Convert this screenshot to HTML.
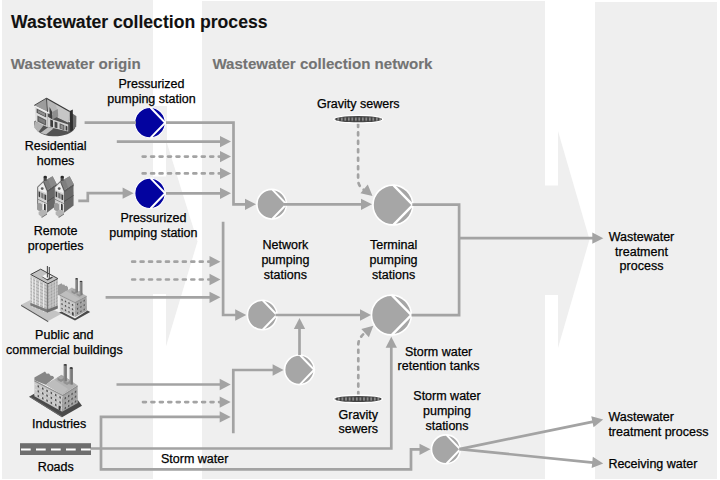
<!DOCTYPE html>
<html><head><meta charset="utf-8"><title>Wastewater collection process</title>
<style>
html,body{margin:0;padding:0;background:#fff;width:720px;height:480px;overflow:hidden;}
svg{display:block;}
text{font-family:"Liberation Sans",sans-serif;}
</style></head>
<body>
<svg width="720" height="480" viewBox="0 0 720 480">
<defs>
<pattern id="hatch" x="336.55" y="116.2" width="3.5" height="6" patternUnits="userSpaceOnUse">
<rect width="3.5" height="6" fill="#444"/><ellipse cx="1.75" cy="3" rx="1.3" ry="2.4" fill="#929292" stroke="#2c2c2c" stroke-width="0.6"/>
</pattern>
<pattern id="hatch2" x="337.0" y="396.0" width="3.6" height="6" patternUnits="userSpaceOnUse">
<rect width="3.6" height="6" fill="#444"/><ellipse cx="1.8" cy="3" rx="1.3" ry="2.4" fill="#929292" stroke="#2c2c2c" stroke-width="0.6"/>
</pattern>
</defs>
<rect x="0" y="0" width="720" height="480" fill="#fff"/>
<rect x="2" y="0" width="151" height="479" fill="#efefef"/>
<rect x="202" y="1" width="343" height="478" fill="#efefef"/>
<rect x="595" y="2" width="122" height="477" fill="#efefef"/>
<rect x="152.5" y="176.5" width="14" height="117.5" fill="#efefef"/>
<polygon points="166,140 197.5,241.5 166,346.5" fill="#efefef"/>
<rect x="152.5" y="106" width="14" height="34" fill="#efefef"/>
<rect x="544.5" y="185.5" width="14" height="109.5" fill="#efefef"/>
<polygon points="558,131 589.5,239.5 558,348" fill="#efefef"/>
<text x="11.00" y="27.80" font-size="17.6" text-anchor="start" font-weight="bold" fill="#111" stroke="#111" stroke-width="0.1">Wastewater collection process</text>
<text x="10.80" y="69.00" font-size="15.15" text-anchor="start" font-weight="bold" fill="#737373" stroke="#737373" stroke-width="0.1">Wastewater origin</text>
<text x="212.40" y="68.80" font-size="15.1" text-anchor="start" font-weight="bold" fill="#737373" stroke="#737373" stroke-width="0.1">Wastewater collection network</text>
<rect x="133" y="106" width="34" height="34" fill="#efefef"/>
<circle cx="150.00" cy="122.70" r="15.20" fill="#03039f" stroke="#fff" stroke-width="1.1"/>
<polyline points="150.50,107.50 165.20,122.70 150.50,137.90" fill="none" stroke="#fff" stroke-width="2.0" stroke-linejoin="miter"/>
<circle cx="150.00" cy="193.30" r="15.20" fill="#03039f" stroke="#fff" stroke-width="1.1"/>
<polyline points="150.50,178.10 165.20,193.30 150.50,208.50" fill="none" stroke="#fff" stroke-width="2.0" stroke-linejoin="miter"/>
<circle cx="271.70" cy="204.20" r="14.80" fill="#a6a6a6" stroke="#fff" stroke-width="1.6"/>
<polyline points="272.20,189.40 286.50,204.20 272.20,219.00" fill="none" stroke="#fff" stroke-width="2.0" stroke-linejoin="miter"/>
<circle cx="392.90" cy="205.00" r="19.90" fill="#a6a6a6" stroke="#fff" stroke-width="1.6"/>
<polyline points="393.40,185.10 412.80,205.00 393.40,224.90" fill="none" stroke="#fff" stroke-width="2.5" stroke-linejoin="miter"/>
<circle cx="262.20" cy="315.00" r="14.80" fill="#a6a6a6" stroke="#fff" stroke-width="1.6"/>
<polyline points="262.70,300.20 277.00,315.00 262.70,329.80" fill="none" stroke="#fff" stroke-width="2.0" stroke-linejoin="miter"/>
<circle cx="391.40" cy="315.00" r="19.90" fill="#a6a6a6" stroke="#fff" stroke-width="1.6"/>
<polyline points="391.90,295.10 411.30,315.00 391.90,334.90" fill="none" stroke="#fff" stroke-width="2.5" stroke-linejoin="miter"/>
<circle cx="299.40" cy="369.80" r="14.80" fill="#a6a6a6" stroke="#fff" stroke-width="1.6"/>
<polyline points="299.90,355.00 314.20,369.80 299.90,384.60" fill="none" stroke="#fff" stroke-width="2.0" stroke-linejoin="miter"/>
<circle cx="445.90" cy="449.30" r="14.40" fill="#a6a6a6" stroke="#fff" stroke-width="1.6"/>
<polyline points="446.40,434.90 460.30,449.30 446.40,463.70" fill="none" stroke="#fff" stroke-width="2.0" stroke-linejoin="miter"/>
<polyline points="84.60,122.70 136.00,122.70" fill="none" stroke="#a3a3a3" stroke-width="2.7"/>
<polyline points="166.00,122.70 233.50,122.70 233.50,204.30 246.00,204.30" fill="none" stroke="#a3a3a3" stroke-width="2.7"/>
<polygon points="256.00,204.30 245.00,209.95 245.00,198.65" fill="#a3a3a3"/>
<polyline points="116.80,141.60 221.00,141.60" fill="none" stroke="#a3a3a3" stroke-width="2.7"/>
<polygon points="231.00,141.60 220.00,147.25 220.00,135.95" fill="#a3a3a3"/>
<polyline points="142.70,156.60 221.00,156.60" fill="none" stroke="#a3a3a3" stroke-width="2.7" stroke-dasharray="2.9 5.55" stroke-linecap="round"/>
<polygon points="231.00,156.60 220.00,162.25 220.00,150.95" fill="#a3a3a3"/>
<polyline points="142.70,173.40 221.00,173.40" fill="none" stroke="#a3a3a3" stroke-width="2.7" stroke-dasharray="2.9 5.55" stroke-linecap="round"/>
<polygon points="231.00,173.40 220.00,179.05 220.00,167.75" fill="#a3a3a3"/>
<polyline points="78.30,200.90 87.80,200.90 87.80,193.20 124.00,193.20" fill="none" stroke="#a3a3a3" stroke-width="2.7"/>
<polygon points="133.60,193.20 122.60,198.85 122.60,187.55" fill="#a3a3a3"/>
<polyline points="166.00,193.30 221.00,193.30" fill="none" stroke="#a3a3a3" stroke-width="2.7"/>
<polygon points="231.00,193.30 220.00,198.95 220.00,187.65" fill="#a3a3a3"/>
<polyline points="284.00,204.30 362.00,204.30" fill="none" stroke="#a3a3a3" stroke-width="2.7"/>
<polygon points="372.00,204.30 361.00,209.95 361.00,198.65" fill="#a3a3a3"/>
<path d="M358.1,124 L358.1,180 Q358.1,186 364,190" fill="none" stroke="#a3a3a3" stroke-width="2.7" stroke-dasharray="2.9 5.55" stroke-linecap="round"/>
<polygon points="372.50,196.00 360.46,193.18 367.78,184.57" fill="#a3a3a3"/>
<polyline points="412.30,204.60 459.10,204.60 459.10,315.20 411.50,315.20" fill="none" stroke="#a3a3a3" stroke-width="2.7"/>
<polyline points="459.10,238.20 593.30,238.20" fill="none" stroke="#a3a3a3" stroke-width="2.7"/>
<polygon points="603.30,238.20 592.30,243.85 592.30,232.55" fill="#a3a3a3"/>
<polyline points="223.10,221.80 223.10,315.00 236.00,315.00" fill="none" stroke="#a3a3a3" stroke-width="2.7"/>
<polygon points="246.20,315.00 235.20,320.65 235.20,309.35" fill="#a3a3a3"/>
<polyline points="132.20,261.70 210.50,261.70" fill="none" stroke="#a3a3a3" stroke-width="2.7" stroke-dasharray="2.9 5.55" stroke-linecap="round"/>
<polygon points="220.50,261.70 209.50,267.35 209.50,256.05" fill="#a3a3a3"/>
<polyline points="132.20,279.50 210.50,279.50" fill="none" stroke="#a3a3a3" stroke-width="2.7" stroke-dasharray="2.9 5.55" stroke-linecap="round"/>
<polygon points="220.50,279.50 209.50,285.15 209.50,273.85" fill="#a3a3a3"/>
<polyline points="105.60,297.30 210.50,297.30" fill="none" stroke="#a3a3a3" stroke-width="2.7"/>
<polygon points="220.50,297.30 209.50,302.95 209.50,291.65" fill="#a3a3a3"/>
<polyline points="275.50,315.00 361.00,315.00" fill="none" stroke="#a3a3a3" stroke-width="2.7"/>
<polygon points="371.00,315.00 360.00,320.65 360.00,309.35" fill="#a3a3a3"/>
<polyline points="299.50,355.00 299.50,328.00" fill="none" stroke="#a3a3a3" stroke-width="2.7"/>
<polygon points="299.50,318.00 305.15,329.00 293.85,329.00" fill="#a3a3a3"/>
<polyline points="233.30,433.30 233.30,370.00 274.00,370.00" fill="none" stroke="#a3a3a3" stroke-width="2.7"/>
<polygon points="283.60,370.00 272.60,375.65 272.60,364.35" fill="#a3a3a3"/>
<polyline points="116.50,384.50 220.70,384.50" fill="none" stroke="#a3a3a3" stroke-width="2.7"/>
<polygon points="230.70,384.50 219.70,390.15 219.70,378.85" fill="#a3a3a3"/>
<polyline points="143.00,402.10 220.70,402.10" fill="none" stroke="#a3a3a3" stroke-width="2.7" stroke-dasharray="2.9 5.55" stroke-linecap="round"/>
<polygon points="230.70,402.10 219.70,407.75 219.70,396.45" fill="#a3a3a3"/>
<polyline points="220.00,416.90 101.00,416.90 101.00,469.30 411.00,469.30 411.00,449.30 420.00,449.30" fill="none" stroke="#a3a3a3" stroke-width="2.7"/>
<polygon points="430.50,449.30 419.50,454.95 419.50,443.65" fill="#a3a3a3"/>
<polygon points="230.70,416.90 219.70,422.55 219.70,411.25" fill="#a3a3a3"/>
<polyline points="91.00,448.50 391.30,448.50 391.30,346.00" fill="none" stroke="#a3a3a3" stroke-width="2.7"/>
<polygon points="391.30,336.80 396.95,347.80 385.65,347.80" fill="#a3a3a3"/>
<path d="M358.3,395 L358.3,345 Q358.3,338 365.2,332.6" fill="none" stroke="#a3a3a3" stroke-width="2.7" stroke-dasharray="2.9 5.55" stroke-linecap="round"/>
<polygon points="373.30,325.80 368.90,337.36 361.34,328.96" fill="#a3a3a3"/>
<polyline points="459.40,449.10 593.40,421.61" fill="none" stroke="#a3a3a3" stroke-width="2.7"/>
<polygon points="603.20,419.60 593.56,427.35 591.29,416.28" fill="#a3a3a3"/>
<polyline points="459.40,449.10 593.25,462.60" fill="none" stroke="#a3a3a3" stroke-width="2.7"/>
<polygon points="603.20,463.60 591.69,468.12 592.82,456.87" fill="#a3a3a3"/>
<ellipse cx="358.3" cy="119.2" rx="25.1" ry="4.5" fill="#fff"/>
<ellipse cx="358.3" cy="119.2" rx="23.8" ry="3.1" fill="url(#hatch)"/>
<ellipse cx="358.1" cy="399" rx="25.1" ry="4.5" fill="#fff"/>
<ellipse cx="358.1" cy="399" rx="23.7" ry="3.1" fill="url(#hatch2)"/>
<rect x="20" y="443.2" width="71" height="11.8" fill="#6e6e6e"/>
<line x1="21" y1="449.4" x2="91" y2="449.4" stroke="#fff" stroke-width="2" stroke-dasharray="9.7 5.3"/>
<text x="151.50" y="88.10" font-size="12.5" text-anchor="middle" font-weight="normal" fill="#000" stroke="#000" stroke-width="0.25">Pressurized</text>
<text x="151.50" y="103.20" font-size="12.5" text-anchor="middle" font-weight="normal" fill="#000" stroke="#000" stroke-width="0.25">pumping station</text>
<text x="55.60" y="149.80" font-size="12.5" text-anchor="middle" font-weight="normal" fill="#000" stroke="#000" stroke-width="0.25">Residential</text>
<text x="55.60" y="164.50" font-size="12.5" text-anchor="middle" font-weight="normal" fill="#000" stroke="#000" stroke-width="0.25">homes</text>
<text x="55.60" y="235.40" font-size="12.5" text-anchor="middle" font-weight="normal" fill="#000" stroke="#000" stroke-width="0.25">Remote</text>
<text x="55.60" y="250.00" font-size="12.5" text-anchor="middle" font-weight="normal" fill="#000" stroke="#000" stroke-width="0.25">properties</text>
<text x="153.40" y="222.00" font-size="12.5" text-anchor="middle" font-weight="normal" fill="#000" stroke="#000" stroke-width="0.25">Pressurized</text>
<text x="153.40" y="236.50" font-size="12.5" text-anchor="middle" font-weight="normal" fill="#000" stroke="#000" stroke-width="0.25">pumping station</text>
<text x="64.30" y="339.30" font-size="12.5" text-anchor="middle" font-weight="normal" fill="#000" stroke="#000" stroke-width="0.25">Public and</text>
<text x="64.30" y="354.30" font-size="12.5" text-anchor="middle" font-weight="normal" fill="#000" stroke="#000" stroke-width="0.25">commercial buildings</text>
<text x="59.20" y="427.70" font-size="12.5" text-anchor="middle" font-weight="normal" fill="#000" stroke="#000" stroke-width="0.25">Industries</text>
<text x="55.70" y="470.80" font-size="12.5" text-anchor="middle" font-weight="normal" fill="#000" stroke="#000" stroke-width="0.25">Roads</text>
<text x="358.30" y="108.00" font-size="12.5" text-anchor="middle" font-weight="normal" fill="#000" stroke="#000" stroke-width="0.25">Gravity sewers</text>
<text x="285.40" y="249.20" font-size="12.5" text-anchor="middle" font-weight="normal" fill="#000" stroke="#000" stroke-width="0.25">Network</text>
<text x="285.40" y="264.10" font-size="12.5" text-anchor="middle" font-weight="normal" fill="#000" stroke="#000" stroke-width="0.25">pumping</text>
<text x="285.40" y="279.00" font-size="12.5" text-anchor="middle" font-weight="normal" fill="#000" stroke="#000" stroke-width="0.25">stations</text>
<text x="393.60" y="249.20" font-size="12.5" text-anchor="middle" font-weight="normal" fill="#000" stroke="#000" stroke-width="0.25">Terminal</text>
<text x="393.60" y="264.10" font-size="12.5" text-anchor="middle" font-weight="normal" fill="#000" stroke="#000" stroke-width="0.25">pumping</text>
<text x="393.60" y="279.00" font-size="12.5" text-anchor="middle" font-weight="normal" fill="#000" stroke="#000" stroke-width="0.25">stations</text>
<text x="438.60" y="355.60" font-size="12.5" text-anchor="middle" font-weight="normal" fill="#000" stroke="#000" stroke-width="0.25">Storm water</text>
<text x="438.60" y="370.30" font-size="12.5" text-anchor="middle" font-weight="normal" fill="#000" stroke="#000" stroke-width="0.25">retention tanks</text>
<text x="358.30" y="418.50" font-size="12.5" text-anchor="middle" font-weight="normal" fill="#000" stroke="#000" stroke-width="0.25">Gravity</text>
<text x="358.30" y="433.30" font-size="12.5" text-anchor="middle" font-weight="normal" fill="#000" stroke="#000" stroke-width="0.25">sewers</text>
<text x="447.00" y="400.00" font-size="12.5" text-anchor="middle" font-weight="normal" fill="#000" stroke="#000" stroke-width="0.25">Storm water</text>
<text x="447.00" y="414.90" font-size="12.5" text-anchor="middle" font-weight="normal" fill="#000" stroke="#000" stroke-width="0.25">pumping</text>
<text x="447.00" y="429.80" font-size="12.5" text-anchor="middle" font-weight="normal" fill="#000" stroke="#000" stroke-width="0.25">stations</text>
<text x="161.00" y="462.70" font-size="12.5" text-anchor="start" font-weight="normal" fill="#000" stroke="#000" stroke-width="0.25">Storm water</text>
<text x="641.50" y="241.10" font-size="12.5" text-anchor="middle" font-weight="normal" fill="#000" stroke="#000" stroke-width="0.25">Wastewater</text>
<text x="641.50" y="255.50" font-size="12.5" text-anchor="middle" font-weight="normal" fill="#000" stroke="#000" stroke-width="0.25">treatment</text>
<text x="641.50" y="269.90" font-size="12.5" text-anchor="middle" font-weight="normal" fill="#000" stroke="#000" stroke-width="0.25">process</text>
<text x="608.40" y="420.90" font-size="12.5" text-anchor="start" font-weight="normal" fill="#000" stroke="#000" stroke-width="0.25">Wastewater</text>
<text x="608.40" y="435.70" font-size="12.5" text-anchor="start" font-weight="normal" fill="#000" stroke="#000" stroke-width="0.25">treatment process</text>
<text x="608.40" y="468.00" font-size="12.5" text-anchor="start" font-weight="normal" fill="#000" stroke="#000" stroke-width="0.25">Receiving water</text>
<path d="M34.2,121.5 C33.2,130 41,136 53,136.3 C64,136.5 72,133.5 74.8,128.5 L74,124 L47,113 Z" fill="#525252"/>
<polygon points="34.6,121.6 44.2,124.6 38.3,132.2 34.2,127.5" fill="#b2b2b2"/>
<polygon points="40.3,133.0 48.5,127.0 53.5,128.5 46.0,134.6" fill="#bebebe"/>
<polygon points="34.8,106.2 47.6,112.6 47.6,127.2 35.6,121.4" fill="#dcdcdc"/>
<polygon points="36.6,108.6 46.2,113.5 46.2,117.6 36.6,112.8" fill="#505050"/>
<polygon points="37.8,109.9 45.0,113.6 45.0,116.2 37.8,112.4" fill="#8d8d8d"/>
<polygon points="37.4,115.6 46.2,120.0 46.2,125.8 37.4,121.4" fill="#5e5e5e"/>
<polygon points="38.8,117.4 45.0,120.5 45.0,124.0 38.8,120.8" fill="#7c7c7c"/>
<polygon points="46.4,98.2 69.8,111.6 76.4,116.2 73.0,118.5 68.0,122.6 48.4,111.6" fill="#b7b7b7"/>
<polygon points="56.0,103.6 69.8,111.6 68.0,122.6 58.0,117.8" fill="#c6c6c6"/>
<polyline points="46.4,98.2 69.8,111.6" stroke="#3a3a3a" stroke-width="1.2" fill="none"/>
<polygon points="46.4,98.2 34.2,105.4 47.6,111.8" fill="#9c9c9c"/>
<polyline points="34.2,105.4 46.4,98.2 47.6,111.8" stroke="#3e3e3e" stroke-width="0.9" fill="none"/>
<polyline points="35,106.3 47.4,112.5" stroke="#f2f2f2" stroke-width="1" fill="none"/>
<polygon points="49.6,107.0 52.2,112.0 52.0,119.0 49.5,118.0" fill="#3e3e3e"/>
<polygon points="52.2,112.0 57.8,109.0 58.2,116.6 52.2,119.6" fill="#8e8e8e"/>
<polygon points="47.6,116.5 52.0,119.2 68.2,124.6 68.2,131.5 47.6,126.8" fill="#d4d4d4"/>
<polygon points="50.3,119.5 53.0,120.6 53.0,127.2 50.3,126.4" fill="#3c3c3c"/>
<polygon points="54.6,121.4 57.4,122.6 57.4,128.2 54.6,127.4" fill="#4a4a4a"/>
<polygon points="59.6,123.2 64.4,125.2 64.4,130.2 59.6,128.6" fill="#5a5a5a"/>
<polygon points="60.6,124.6 63.4,125.8 63.4,129.2 60.6,128.2" fill="#8e8e8e"/>
<polygon points="65.6,125.6 67.4,126.4 67.4,130.8 65.6,130.2" fill="#3a3a3a"/>
<polygon points="70.0,112.0 76.4,116.2 76.2,126.4 72.4,130.6" fill="#6c6c6c"/>
<polygon points="69.8,111.0 72.8,109.6 73.0,130.0 70.2,131.4" fill="#2e2e2e"/>
<polygon points="47.0,190.5 56.5,184.0 56.6,205.5 47.0,212.8" fill="#686868"/>
<line x1="47.0" y1="201.6" x2="56.6" y2="195.4" stroke="#4e4e4e" stroke-width="0.9"/>
<polygon points="47.0,190.5 56.5,184.0 56.6,186.0 47.0,192.5" fill="#5a5a5a"/>
<polygon points="43.4,181.4 52.6,176.2 56.6,184.0 47.0,190.5" fill="#7e7e7e"/>
<polygon points="48.0,179.0 52.6,176.2 56.6,184.0 51.0,187.6" fill="#8a8a8a"/>
<polygon points="43.6,177.2 46.8,176.8 46.8,180.4 43.6,181.2" fill="#4a4a4a"/>
<ellipse cx="45.2" cy="177.0" rx="1.7" ry="1.2" fill="#2a2a2a"/>
<polygon points="37.4,187.0 43.4,181.4 47.0,190.5 47.0,212.8 37.4,207.8" fill="#d2d2d2"/>
<polygon points="38.6,187.4 43.4,183.0 46.0,190.4 46.0,193.0 38.6,190.0" fill="#f0f0f0"/>
<polyline points="37.2,187.4 43.4,181.4 47.2,190.8" stroke="#3a3a3a" stroke-width="0.8" fill="none"/>
<line x1="37.6" y1="187.4" x2="37.6" y2="207.8" stroke="#6a6a6a" stroke-width="0.9"/>
<circle cx="42.2" cy="188.6" r="1.4" fill="#5a5a5a"/>
<polygon points="38.6,191.2 40.2,192.0 40.2,197.4 38.6,196.6" fill="#3c3c3c"/>
<polygon points="41.2,192.6 43.6,193.8 43.6,199.0 41.2,197.8" fill="#777"/>
<polygon points="44.4,194.2 46.2,195.0 46.2,200.2 44.4,199.4" fill="#3c3c3c"/>
<line x1="37.8" y1="199.2" x2="46.8" y2="203.6" stroke="#8a8a8a" stroke-width="1"/>
<polygon points="43.2,202.6 46.4,204.2 46.4,211.4 43.2,209.8" fill="#f2f2f2"/>
<polygon points="44.0,203.6 45.8,204.4 45.8,210.8 44.0,210.0" fill="#3a3a3a"/>
<path d="M37.0,204 Q39.5,202 42.0,204.5 L42.0,210.5 Q39.5,212 37.0,209.5 Z" fill="#9a9a9a"/>
<polygon points="38.6,211.8 43.0,209.6 47.0,211.8 47.0,213.4 41.6,217.0 38.6,214.6" fill="#b4b4b4"/>
<polygon points="41.6,217.0 47.0,213.4 47.0,214.6 41.6,218.0" fill="#6a6a6a"/>
<polygon points="64.0,190.5 73.5,184.0 73.6,205.5 64.0,212.8" fill="#686868"/>
<line x1="64.0" y1="201.6" x2="73.6" y2="195.4" stroke="#4e4e4e" stroke-width="0.9"/>
<polygon points="64.0,190.5 73.5,184.0 73.6,186.0 64.0,192.5" fill="#5a5a5a"/>
<polygon points="60.4,181.4 69.6,176.2 73.6,184.0 64.0,190.5" fill="#7e7e7e"/>
<polygon points="65.0,179.0 69.6,176.2 73.6,184.0 68.0,187.6" fill="#8a8a8a"/>
<polygon points="60.6,177.2 63.8,176.8 63.8,180.4 60.6,181.2" fill="#4a4a4a"/>
<ellipse cx="62.2" cy="177.0" rx="1.7" ry="1.2" fill="#2a2a2a"/>
<polygon points="54.4,187.0 60.4,181.4 64.0,190.5 64.0,212.8 54.4,207.8" fill="#d2d2d2"/>
<polygon points="55.6,187.4 60.4,183.0 63.0,190.4 63.0,193.0 55.6,190.0" fill="#f0f0f0"/>
<polyline points="54.2,187.4 60.4,181.4 64.2,190.8" stroke="#3a3a3a" stroke-width="0.8" fill="none"/>
<line x1="54.6" y1="187.4" x2="54.6" y2="207.8" stroke="#6a6a6a" stroke-width="0.9"/>
<circle cx="59.2" cy="188.6" r="1.4" fill="#5a5a5a"/>
<polygon points="55.6,191.2 57.2,192.0 57.2,197.4 55.6,196.6" fill="#3c3c3c"/>
<polygon points="58.2,192.6 60.6,193.8 60.6,199.0 58.2,197.8" fill="#777"/>
<polygon points="61.4,194.2 63.2,195.0 63.2,200.2 61.4,199.4" fill="#3c3c3c"/>
<line x1="54.8" y1="199.2" x2="63.8" y2="203.6" stroke="#8a8a8a" stroke-width="1"/>
<polygon points="60.2,202.6 63.4,204.2 63.4,211.4 60.2,209.8" fill="#f2f2f2"/>
<polygon points="61.0,203.6 62.8,204.4 62.8,210.8 61.0,210.0" fill="#3a3a3a"/>
<path d="M54.0,204 Q56.5,202 59.0,204.5 L59.0,210.5 Q56.5,212 54.0,209.5 Z" fill="#9a9a9a"/>
<polygon points="55.6,211.8 60.0,209.6 64.0,211.8 64.0,213.4 58.6,217.0 55.6,214.6" fill="#b4b4b4"/>
<polygon points="58.6,217.0 64.0,213.4 64.0,214.6 58.6,218.0" fill="#6a6a6a"/>
<polygon points="21.1,304.7 29.9,300.3 62.0,313.4 48.2,320.9" fill="#c4c4c4"/>
<polygon points="21.1,304.7 48.2,320.9 48.2,322.2 21.1,305.9" fill="#555"/>
<polygon points="30.4,275.2 47.4,284.2 47.4,312.4 30.4,305.6" fill="#c9c9c9"/>
<line x1="30.6" y1="278.6" x2="47.2" y2="286.2" stroke="#a8a8a8" stroke-width="0.9"/>
<line x1="30.6" y1="281.8" x2="47.2" y2="289.4" stroke="#a8a8a8" stroke-width="0.9"/>
<line x1="30.6" y1="285.0" x2="47.2" y2="292.6" stroke="#a8a8a8" stroke-width="0.9"/>
<line x1="30.6" y1="288.2" x2="47.2" y2="295.8" stroke="#a8a8a8" stroke-width="0.9"/>
<line x1="30.6" y1="291.4" x2="47.2" y2="299.0" stroke="#a8a8a8" stroke-width="0.9"/>
<line x1="30.6" y1="294.6" x2="47.2" y2="302.2" stroke="#a8a8a8" stroke-width="0.9"/>
<line x1="30.6" y1="297.8" x2="47.2" y2="305.4" stroke="#a8a8a8" stroke-width="0.9"/>
<line x1="30.6" y1="301.0" x2="47.2" y2="308.6" stroke="#a8a8a8" stroke-width="0.9"/>
<line x1="30.6" y1="304.2" x2="47.2" y2="311.8" stroke="#a8a8a8" stroke-width="0.9"/>
<line x1="32.6" y1="277.6" x2="32.6" y2="307.3" stroke="#ececec" stroke-width="1.0"/>
<line x1="35.6" y1="279.2" x2="35.6" y2="308.5" stroke="#ececec" stroke-width="1.0"/>
<line x1="39.6" y1="281.3" x2="39.6" y2="310.1" stroke="#ececec" stroke-width="1.0"/>
<line x1="43.6" y1="283.4" x2="43.6" y2="311.7" stroke="#ececec" stroke-width="1.0"/>
<polygon points="47.4,284.2 57.7,278.8 57.7,308.4 47.4,312.4" fill="#b4b4b4"/>
<line x1="47.6" y1="287.2" x2="57.5" y2="282.2" stroke="#9a9a9a" stroke-width="0.8"/>
<line x1="47.6" y1="290.3" x2="57.5" y2="285.3" stroke="#9a9a9a" stroke-width="0.8"/>
<line x1="47.6" y1="293.4" x2="57.5" y2="288.4" stroke="#9a9a9a" stroke-width="0.8"/>
<line x1="47.6" y1="296.5" x2="57.5" y2="291.5" stroke="#9a9a9a" stroke-width="0.8"/>
<line x1="47.6" y1="299.6" x2="57.5" y2="294.6" stroke="#9a9a9a" stroke-width="0.8"/>
<line x1="47.6" y1="302.7" x2="57.5" y2="297.7" stroke="#9a9a9a" stroke-width="0.8"/>
<line x1="47.6" y1="305.8" x2="57.5" y2="300.8" stroke="#9a9a9a" stroke-width="0.8"/>
<line x1="47.6" y1="308.9" x2="57.5" y2="303.9" stroke="#9a9a9a" stroke-width="0.8"/>
<line x1="47.6" y1="312.0" x2="57.5" y2="307.0" stroke="#9a9a9a" stroke-width="0.8"/>
<line x1="50.0" y1="281.6" x2="50.0" y2="310.4" stroke="#d4d4d4" stroke-width="0.9"/>
<line x1="53.0" y1="280.1" x2="53.0" y2="309.2" stroke="#d4d4d4" stroke-width="0.9"/>
<line x1="55.6" y1="278.7" x2="55.6" y2="308.2" stroke="#d4d4d4" stroke-width="0.9"/>
<polygon points="30.4,302.8 47.4,309.4 47.4,312.4 30.4,305.6" fill="#7a7a7a"/>
<polygon points="47.4,309.4 57.7,305.4 57.7,308.4 47.4,312.4" fill="#6e6e6e"/>
<line x1="47.4" y1="284.2" x2="47.4" y2="312.4" stroke="#6a6a6a" stroke-width="0.9"/>
<polygon points="30.7,274.5 40.7,269.2 57.9,278.6 47.9,283.8" fill="#c2c2c2"/>
<polygon points="30.7,274.5 40.7,269.2 57.9,278.6 47.9,283.8" stroke="#444" stroke-width="1" fill="none"/>
<polygon points="41.6,276.8 47.0,274.0 53.0,277.4 47.6,280.4" fill="#3c3c3c"/>
<polygon points="41.8,276.2 47.0,273.4 52.2,276.4 47.0,279.2" fill="#f6f6f6"/>
<line x1="47.4" y1="266" x2="47.4" y2="277.4" stroke="#4a4a4a" stroke-width="1.1"/>
<line x1="49.3" y1="267" x2="49.3" y2="278.4" stroke="#4a4a4a" stroke-width="1.1"/>
<polygon points="59.0,312.6 61.5,311.5 75.0,318.6 87.5,310.5 90.2,312.0 75.0,320.6" fill="#4a4a4a"/>
<polygon points="57.8,285.2 61.6,283.2 62.6,284.8 64.2,284.4 65.2,286.0 66.8,285.8 68.0,287.6 68.0,290.5 59.9,295.5 57.8,295.0" fill="#9a9a9a"/>
<polygon points="59.9,294.8 75.0,302.1 75.0,316.9 59.9,310.6" fill="#c6c6c6"/>
<polygon points="59.9,297.4 75.0,304.7 75.0,305.5 59.9,298.2" fill="#d8d8d8"/>
<polygon points="59.9,301.8 75.0,309.1 75.0,309.9 59.9,302.6" fill="#d8d8d8"/>
<polygon points="59.9,306.2 75.0,313.5 75.0,314.3 59.9,307.0" fill="#d8d8d8"/>
<polygon points="75.0,302.1 86.6,295.9 87.0,310.6 75.0,316.9" fill="#a2a2a2"/>
<polygon points="75.0,306.0 86.8,299.8 86.8,300.5 75.0,306.7" fill="#b2b2b2"/>
<polygon points="75.0,310.4 86.8,304.2 86.8,304.9 75.0,311.1" fill="#b2b2b2"/>
<polygon points="75.0,314.8 86.8,308.6 86.8,309.3 75.0,315.5" fill="#b2b2b2"/>
<polygon points="59.9,294.8 71.9,287.5 86.6,295.9 75.0,302.1" fill="#b4b4b4"/>
<polygon points="59.9,294.8 66.0,291.0 80.0,299.0 75.0,302.1" fill="#bebebe"/>
<polyline points="59.9,295.2 75,302.6 86.6,296.3" stroke="#8a8a8a" stroke-width="0.8" fill="none"/>
<polygon points="61.4,298.6 62.7,299.2 62.7,300.9 61.4,300.3" fill="#525252"/>
<polygon points="64.9,300.3 66.2,300.9 66.2,302.6 64.9,302.0" fill="#525252"/>
<polygon points="68.4,302.0 69.7,302.6 69.7,304.3 68.4,303.7" fill="#525252"/>
<polygon points="71.9,303.7 73.2,304.3 73.2,306.0 71.9,305.4" fill="#525252"/>
<polygon points="61.4,303.0 62.7,303.6 62.7,305.3 61.4,304.7" fill="#525252"/>
<polygon points="64.9,304.7 66.2,305.3 66.2,307.0 64.9,306.4" fill="#525252"/>
<polygon points="68.4,306.4 69.7,307.0 69.7,308.7 68.4,308.1" fill="#525252"/>
<polygon points="71.9,308.1 73.2,308.7 73.2,310.4 71.9,309.8" fill="#525252"/>
<polygon points="61.4,307.4 62.7,308.0 62.7,309.7 61.4,309.1" fill="#525252"/>
<polygon points="64.9,309.1 66.2,309.7 66.2,311.4 64.9,310.8" fill="#525252"/>
<polygon points="68.4,310.8 69.7,311.4 69.7,313.1 68.4,312.5" fill="#525252"/>
<polygon points="71.9,312.5 73.2,313.1 73.2,314.8 71.9,314.2" fill="#525252"/>
<polygon points="77.0,303.8 78.2,303.1 78.2,304.8 77.0,305.5" fill="#565656"/>
<polygon points="80.3,302.1 81.5,301.4 81.5,303.1 80.3,303.8" fill="#565656"/>
<polygon points="83.6,300.3 84.8,299.6 84.8,301.3 83.6,302.0" fill="#565656"/>
<polygon points="77.0,308.2 78.2,307.5 78.2,309.2 77.0,309.9" fill="#565656"/>
<polygon points="80.3,306.4 81.5,305.8 81.5,307.4 80.3,308.1" fill="#565656"/>
<polygon points="83.6,304.7 84.8,304.0 84.8,305.7 83.6,306.4" fill="#565656"/>
<polygon points="77.0,312.6 78.2,311.9 78.2,313.6 77.0,314.3" fill="#565656"/>
<polygon points="80.3,310.9 81.5,310.2 81.5,311.9 80.3,312.6" fill="#565656"/>
<polygon points="83.6,309.1 84.8,308.4 84.8,310.1 83.6,310.8" fill="#565656"/>
<polygon points="72.2,311.8 73.6,312.6 73.6,316.0 72.2,315.2" fill="#3a3a3a"/>
<polygon points="71.5,290.5 74.5,288.8 77.5,290.5 77.5,292.5 74.5,294.2 71.5,292.5" fill="#8e8e8e"/>
<polygon points="71.5,290.5 74.5,288.8 77.5,290.5 74.5,292.2" fill="#a8a8a8"/>
<polygon points="76.5,293.0 79.5,291.3 82.5,293.0 82.5,295.0 79.5,296.7 76.5,295.0" fill="#929292"/>
<polygon points="76.5,293.0 79.5,291.3 82.5,293.0 79.5,294.7" fill="#b0b0b0"/>
<polygon points="75.3,278.8 77.9,278.8 77.9,292.3 75.3,292.3" fill="#8a8a8a"/>
<polygon points="76.6,278.8 77.9,278.8 77.9,292.3 76.6,292.3" fill="#7a7a7a"/>
<ellipse cx="76.6" cy="278.8" rx="1.3" ry="0.7" fill="#3a3a3a"/>
<polygon points="79.7,281.4 82.3,281.4 82.3,294.9 79.7,294.9" fill="#8a8a8a"/>
<polygon points="81.0,281.4 82.3,281.4 82.3,294.9 81.0,294.9" fill="#7a7a7a"/>
<ellipse cx="81.0" cy="281.4" rx="1.3" ry="0.7" fill="#3a3a3a"/>
<polygon points="29.1,396.7 34.5,393.5 77.8,400.0 82.0,405.8 62.0,417.2" fill="#4a4a4a"/>
<polygon points="29.1,396.7 62.0,417.2 62.0,416.0 30.5,396.5" fill="#6a6a6a"/>
<polygon points="34.4,377.4 45.0,371.5 46.6,373.8 49.0,373.4 50.6,375.8 53.0,376.0 54.2,378.0 45.8,384.8 34.4,380.2" fill="#868686"/>
<polygon points="34.4,380.2 61.8,394.4 62.6,395.0 62.6,411.6 61.8,411.4 34.4,396.2" fill="#c6c6c6"/>
<polygon points="34.4,383.6 62.2,397.8 62.2,398.8 34.4,384.6" fill="#dadada"/>
<polygon points="34.4,388.5 62.2,402.7 62.2,403.7 34.4,389.5" fill="#dadada"/>
<polygon points="34.4,393.4 62.2,407.6 62.2,408.6 34.4,394.4" fill="#dadada"/>
<polygon points="62.6,395.0 77.6,385.4 77.8,402.9 62.6,411.6" fill="#a2a2a2"/>
<polygon points="62.6,398.4 77.7,388.8 77.7,389.6 62.6,399.2" fill="#b4b4b4"/>
<polygon points="62.6,403.3 77.7,393.7 77.7,394.5 62.6,404.1" fill="#b4b4b4"/>
<polygon points="62.6,408.2 77.7,398.6 77.7,399.4 62.6,409.0" fill="#b4b4b4"/>
<polygon points="45.8,384.8 61.7,374.7 77.6,385.2 62.4,394.8" fill="#b2b2b2"/>
<polygon points="45.8,384.8 54.0,379.6 68.0,389.0 62.4,394.8" fill="#bdbdbd"/>
<polygon points="61.8,394.4 62.6,395.0 77.6,385.4 77.6,386.4 62.6,396.2 61.8,395.6 34.4,381.4 34.4,380.2" fill="#8a8a8a"/>
<polygon points="37.6,385.0 39.1,385.8 39.1,387.8 37.6,387.0" fill="#505050"/>
<polygon points="42.0,387.2 43.5,388.0 43.5,390.0 42.0,389.2" fill="#505050"/>
<polygon points="46.3,389.4 47.8,390.2 47.8,392.2 46.3,391.4" fill="#505050"/>
<polygon points="50.6,391.6 52.1,392.4 52.1,394.4 50.6,393.6" fill="#505050"/>
<polygon points="55.0,393.8 56.5,394.6 56.5,396.6 55.0,395.8" fill="#505050"/>
<polygon points="59.4,396.0 60.9,396.8 60.9,398.8 59.4,398.0" fill="#505050"/>
<polygon points="37.6,389.9 39.1,390.7 39.1,392.7 37.6,391.9" fill="#505050"/>
<polygon points="42.0,392.1 43.5,392.9 43.5,394.9 42.0,394.1" fill="#505050"/>
<polygon points="46.3,394.3 47.8,395.1 47.8,397.1 46.3,396.3" fill="#505050"/>
<polygon points="50.6,396.5 52.1,397.3 52.1,399.3 50.6,398.5" fill="#505050"/>
<polygon points="55.0,398.7 56.5,399.5 56.5,401.5 55.0,400.7" fill="#505050"/>
<polygon points="59.4,400.9 60.9,401.7 60.9,403.7 59.4,402.9" fill="#505050"/>
<polygon points="37.6,394.8 39.1,395.6 39.1,397.6 37.6,396.8" fill="#505050"/>
<polygon points="42.0,397.0 43.5,397.8 43.5,399.8 42.0,399.0" fill="#505050"/>
<polygon points="46.3,399.2 47.8,400.0 47.8,402.0 46.3,401.2" fill="#505050"/>
<polygon points="50.6,401.4 52.1,402.2 52.1,404.2 50.6,403.4" fill="#505050"/>
<polygon points="55.0,403.6 56.5,404.4 56.5,406.4 55.0,405.6" fill="#505050"/>
<polygon points="59.4,405.8 60.9,406.6 60.9,408.6 59.4,407.8" fill="#505050"/>
<polygon points="64.6,397.6 66.0,396.7 66.0,398.7 64.6,399.6" fill="#555"/>
<polygon points="68.0,395.5 69.4,394.6 69.4,396.6 68.0,397.5" fill="#555"/>
<polygon points="71.4,393.3 72.8,392.4 72.8,394.4 71.4,395.3" fill="#555"/>
<polygon points="74.8,391.2 76.2,390.3 76.2,392.3 74.8,393.2" fill="#555"/>
<polygon points="64.6,402.5 66.0,401.6 66.0,403.6 64.6,404.5" fill="#555"/>
<polygon points="68.0,400.4 69.4,399.5 69.4,401.5 68.0,402.4" fill="#555"/>
<polygon points="71.4,398.2 72.8,397.3 72.8,399.3 71.4,400.2" fill="#555"/>
<polygon points="74.8,396.1 76.2,395.2 76.2,397.2 74.8,398.1" fill="#555"/>
<polygon points="64.6,407.4 66.0,406.5 66.0,408.5 64.6,409.4" fill="#555"/>
<polygon points="68.0,405.3 69.4,404.4 69.4,406.4 68.0,407.3" fill="#555"/>
<polygon points="71.4,403.1 72.8,402.2 72.8,404.2 71.4,405.1" fill="#555"/>
<polygon points="74.8,401.0 76.2,400.1 76.2,402.1 74.8,403.0" fill="#555"/>
<polygon points="58.6,405.6 60.4,406.6 60.4,410.8 58.6,409.8" fill="#3a3a3a"/>
<polygon points="57.5,377.5 61.0,375.5 64.5,377.5 64.5,380.0 61.0,382.0 57.5,380.0" fill="#8e8e8e"/>
<polygon points="57.5,377.5 61.0,375.5 64.5,377.5 61.0,379.5" fill="#a8a8a8"/>
<polygon points="63.5,380.5 67.0,378.5 70.5,380.5 70.5,383.0 67.0,385.0 63.5,383.0" fill="#929292"/>
<polygon points="63.5,380.5 67.0,378.5 70.5,380.5 67.0,382.5" fill="#b0b0b0"/>
<polygon points="63.6,364.8 66.8,364.8 66.8,381.3 63.6,381.3" fill="#8a8a8a"/>
<polygon points="65.0,364.8 66.8,364.8 66.8,381.3 65.0,381.3" fill="#7a7a7a"/>
<ellipse cx="65.2" cy="364.8" rx="1.6" ry="0.9" fill="#3a3a3a"/>
<polygon points="69.6,368.0 72.8,368.0 72.8,384.5 69.6,384.5" fill="#8a8a8a"/>
<polygon points="71.0,368.0 72.8,368.0 72.8,384.5 71.0,384.5" fill="#7a7a7a"/>
<ellipse cx="71.2" cy="368.0" rx="1.6" ry="0.9" fill="#3a3a3a"/>
</svg>
</body></html>
